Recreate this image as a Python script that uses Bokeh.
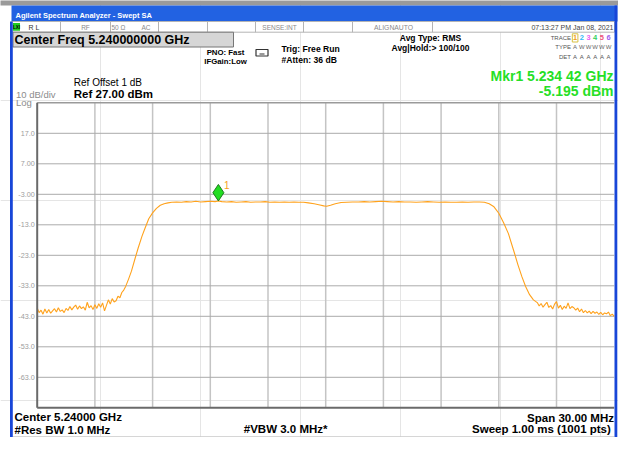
from bokeh.plotting import figure
from bokeh.models import Range1d
from bokeh.core.properties import value
from bokeh.embed import file_html
from bokeh.resources import INLINE

# ---------------- data ----------------
f_start_mhz = 5225.0
f_stop_mhz = 5255.0
ref_level_dbm = 27.0
db_per_div = 10.0
n_div = 10

freq_mhz = [
    5225.0, 5225.1, 5225.2, 5225.3, 5225.4, 5225.5, 5225.6, 5225.7, 5225.8, 5225.9,
    5226.0, 5226.1, 5226.2, 5226.3, 5226.4, 5226.5, 5226.6, 5226.7, 5226.8, 5226.9,
    5227.0, 5227.1, 5227.2, 5227.3, 5227.4, 5227.5, 5227.6, 5227.7, 5227.8, 5227.9,
    5228.0, 5228.1, 5228.2, 5228.3, 5228.4, 5228.5, 5228.6, 5228.7, 5228.8, 5228.9,
    5229.0,
    5229.1, 5229.2, 5229.3, 5229.4, 5229.5, 5229.6, 5229.75, 5229.9, 5230.1, 5230.25,
    5230.45, 5230.6, 5230.8, 5231.0, 5231.2, 5231.4, 5231.6, 5231.8, 5232.0,
    5232.25, 5232.5, 5232.75, 5233.0, 5233.25, 5233.5, 5233.75, 5234.0, 5234.25, 5234.42,
    5234.6, 5234.85, 5235.1, 5235.35, 5235.6, 5235.85, 5236.1, 5236.35, 5236.6, 5236.85,
    5237.1, 5237.35, 5237.6, 5237.85, 5238.1, 5238.35, 5238.6, 5238.85, 5239.1, 5239.4,
    5239.7, 5239.9, 5240.05, 5240.25, 5240.5, 5240.8, 5241.1, 5241.4, 5241.7, 5242.0,
    5242.3, 5242.6, 5242.9, 5243.2, 5243.5, 5243.8, 5244.1, 5244.4, 5244.7, 5245.0,
    5245.3, 5245.6, 5245.9, 5246.2, 5246.5, 5246.8, 5247.1, 5247.4, 5247.7, 5248.0,
    5248.25,
    5248.5, 5248.75, 5249.0, 5249.25, 5249.5, 5249.8, 5250.0, 5250.2, 5250.4, 5250.6,
    5250.8, 5251.0,
    5251.1, 5251.2, 5251.3, 5251.4, 5251.5, 5251.6, 5251.7, 5251.8, 5251.9, 5252.0,
    5252.1, 5252.2, 5252.3, 5252.4, 5252.5, 5252.6, 5252.7, 5252.8, 5252.9, 5253.0,
    5253.1, 5253.2, 5253.3, 5253.4, 5253.5, 5253.6, 5253.7, 5253.8, 5253.9, 5254.0,
    5254.1, 5254.2, 5254.3, 5254.4, 5254.5, 5254.6, 5254.7, 5254.8, 5254.9, 5255.0,
]

level_dbm = [
    -40.3, -41.8, -41.0, -42.3, -40.6, -41.9, -40.8, -42.0, -41.2, -40.5,
    -41.6, -40.2, -41.4, -40.9, -41.8, -40.4, -41.1, -39.8, -40.9, -40.0,
    -39.3, -40.7, -39.6, -40.5, -39.9, -41.0, -38.4, -40.2, -39.5, -40.8,
    -39.2, -40.4, -38.9, -40.0, -38.6, -41.2, -39.4, -37.6, -39.0, -37.2,
    -38.3,
    -37.9, -36.4, -36.9, -35.2, -34.4, -33.2, -30.8, -28.2, -23.8, -20.6,
    -16.7, -14.2, -11.0, -9.1, -7.6, -6.6, -6.1, -5.8, -5.6,
    -5.5, -5.6, -5.4, -5.5, -5.3, -5.5, -5.4, -5.3, -5.4, -5.195,
    -5.4, -5.5, -5.4, -5.6, -5.5, -5.4, -5.6, -5.5, -5.5, -5.4,
    -5.6, -5.5, -5.6, -5.5, -5.6, -5.5, -5.6, -5.6, -5.8, -6.1,
    -6.5, -6.8, -6.9, -6.6, -6.1, -5.7, -5.6, -5.5, -5.5, -5.4,
    -5.5, -5.4, -5.3, -5.4, -5.5, -5.4, -5.5, -5.5, -5.6, -5.5,
    -5.4, -5.5, -5.6, -5.5, -5.6, -5.6, -5.5, -5.6, -5.5, -5.5,
    -5.6,
    -6.1, -7.1, -9.2, -12.3, -15.9, -22.0, -26.2, -30.0, -33.3, -35.9,
    -37.6, -38.5,
    -39.6, -38.8, -40.0, -39.2, -38.4, -40.1, -39.5, -40.6, -39.0, -38.2,
    -40.3, -39.4, -40.8, -39.7, -40.4, -38.6, -40.5, -39.8, -40.2, -41.0,
    -40.3, -41.5, -40.6, -41.8, -41.1, -41.9, -41.3, -42.1, -41.4, -42.0,
    -41.6, -42.4, -41.7, -42.5, -41.9, -42.2, -41.6, -42.8, -42.3, -43.0,
]

y_ticks = [17.0, 7.0, -3.0, -13.0, -23.0, -33.0, -43.0, -53.0, -63.0]
y_tick_labels = ["17.0", "7.00", "-3.00", "-13.0", "-23.0", "-33.0", "-43.0", "-53.0", "-63.0"]
x_grid_mhz = [5228.0, 5231.0, 5234.0, 5237.0, 5240.0, 5243.0, 5246.0, 5249.0, 5252.0]

mkr_freq_mhz = 5234.42
mkr_level_dbm = -5.195

trace_numbers = ["1", "2", "3", "4", "5", "6"]
trace_colors = ["#f0a020", "#33bbf5", "#f060f0", "#33d060", "#f0507a", "#a060f0"]
trace_types = ["A", "W", "W", "W", "W", "W"]
trace_dets = ["A", "A", "A", "A", "A", "A"]

# ---------------- layout ----------------
FONT = "Liberation Sans"
W, H = 618, 437
OX, OY = 0, 0          # screenshot px -> canvas px
IL, IR, IT, IB = 36.7, 613.7, 102.3, 407.3   # graticule edges, screenshot px


def cx(ix):
    return ix - OX


def cy(iy):
    return iy - OY


fpp = (f_stop_mhz - f_start_mhz) / (IR - IL)
bottom_db = ref_level_dbm - n_div * db_per_div
dpp = (n_div * db_per_div) / (IB - IT)

p = figure(width=W, height=H, x_range=Range1d(0, W), y_range=Range1d(H, 0),
           output_backend="svg", toolbar_location=None,
           x_axis_location=None, y_axis_location=None, min_border=0)
p.outline_line_color = None
p.background_fill_color = "white"
p.border_fill_color = "white"
p.extra_x_ranges = {"f": Range1d(f_start_mhz - cx(IL) * fpp, f_stop_mhz + (W - cx(IR)) * fpp)}
p.extra_y_ranges = {"db": Range1d(bottom_db - (H - cy(IB)) * dpp, ref_level_dbm + cy(IT) * dpp)}
D = dict(x_range_name="f", y_range_name="db")


def box(il, it, ir, ib, fill=None, line=None, lw=1.0):
    p.quad(left=cx(il), right=cx(ir), top=cy(it), bottom=cy(ib),
           fill_color=fill, line_color=line, line_width=lw)


def vline(ix, it, ib, color, lw=1.0):
    p.segment(x0=cx(ix), y0=cy(it), x1=cx(ix), y1=cy(ib), line_color=color, line_width=lw)


def hline(il, ir, iy, color, lw=1.0):
    p.segment(x0=cx(il), y0=cy(iy), x1=cx(ir), y1=cy(iy), line_color=color, line_width=lw)


def label(ix, iy, s, size, color="#000000", bold=False, align="left", base="middle"):
    p.text(x=[cx(ix)], y=[cy(iy)], text=[s], text_font=value(FONT),
           text_font_size=f"{size}px", text_font_style="bold" if bold else "normal",
           text_color=color, text_align=align, text_baseline=base)


# top strip of the desktop behind the window
box(-1, -1, 640, 5, fill="#9a9a9a")

# title bar
box(11, 5, 617, 21, fill="#2262e2")
label(15, 14.8, "Agilent Spectrum Analyzer - Swept SA", 7.5, "#ffffff", bold=True)

# status row
box(11, 21, 614, 31.7, fill="#ffffff", line="#b4b4b4")
for xb in [60, 110, 158, 207, 255, 303, 352, 432]:
    vline(xb, 21, 31.7, "#b4b4b4")
box(12.5, 22.5, 19.5, 30.2, fill="#22cc22")
label(16, 26.5, "LXI", 4.5, "#000000", bold=True, align="center")
label(28, 26.6, "R L", 7, "#333333")
label(85, 26.6, "RF", 6.5, "#8a8a8a", align="center")
label(111, 26.6, "50 Ω", 6.5, "#8a8a8a")
label(141, 26.6, "AC", 6.5, "#8a8a8a")
label(279, 26.6, "SENSE:INT", 6.5, "#8a8a8a", align="center")
label(393, 26.6, "ALIGNAUTO", 6.8, "#8a8a8a", align="center")
label(613, 26.6, "07:13:27 PM Jan 08, 2021", 7, "#444444", align="right")

# center frequency box
box(12.5, 31.7, 233, 46.5, fill="#d6d6d6", line="#777777")
label(14, 39.6, "Center Freq 5.240000000 GHz", 12.5, "#000000", bold=True)

# acquisition settings
label(225, 51.8, "PNO: Fast", 7.8, "#000000", bold=True, align="center")
label(225, 60.8, "IFGain:Low", 7.8, "#000000", bold=True, align="center")
box(255.5, 49, 267.5, 55.5, line="#333333", lw=1.2)
p.segment(x0=cx(259), y0=cy(53.5), x1=cx(264), y1=cy(53.5), line_color="#333333", line_width=1)
label(281, 48.4, "Trig: Free Run", 8.6, "#000000", bold=True)
label(281, 59.0, "#Atten: 36 dB", 8.6, "#000000", bold=True)
label(430, 37.8, "Avg Type: RMS", 8.5, "#000000", bold=True, align="center")
label(430, 47.8, "Avg|Hold:> 100/100", 8.5, "#000000", bold=True, align="center")

# trace table
label(570.5, 37.4, "TRACE", 6, "#555555", align="right")
label(570.5, 46.8, "TYPE", 6, "#555555", align="right")
label(570.5, 56.8, "DET", 6, "#555555", align="right")
box(571.8, 33.3, 577.4, 41.5, line="#d8c040", lw=1)
for i, (num, col, typ, det) in enumerate(zip(trace_numbers, trace_colors, trace_types, trace_dets)):
    xx = 574.6 + i * 6.7
    label(xx, 37.4, num, 7.5, col, bold=True, align="center")
    label(xx, 46.8, typ, 6, "#666666", align="center")
    label(xx, 56.8, det, 6, "#555555", align="center")

# marker readout
label(613, 75.8, "Mkr1 5.234 42 GHz", 14, "#26df26", bold=True, align="right")
label(613, 90.0, "-5.195 dBm", 14, "#26df26", bold=True, align="right")

# reference info
label(73.3, 82.4, "Ref Offset 1 dB", 10, "#000000")
label(73.3, 93.0, "Ref 27.00 dBm", 11.5, "#000000", bold=True)
label(15.5, 94.2, "10 dB/div", 9.5, "#8c8c8c")
label(15.5, 101.8, "Log", 9.5, "#8c8c8c")

# graticule
p.segment(x0=x_grid_mhz, y0=bottom_db, x1=x_grid_mhz, y1=ref_level_dbm,
          line_color="#c4c4c4", line_width=1.5, **D)
p.segment(x0=f_start_mhz, y0=y_ticks, x1=f_stop_mhz, y1=y_ticks,
          line_color="#ababab", line_width=1, **D)
p.text(x=f_start_mhz, y=y_ticks, text=y_tick_labels, x_offset=-2.5,
       text_align="right", text_baseline="middle", text_font=value(FONT),
       text_font_size="7.2px", text_color="#9c9c9c", **D)

# trace
p.line(freq_mhz, level_dbm, line_color="#ffa21c", line_width=1.1, **D)

# graticule border
p.segment(x0=f_start_mhz, y0=ref_level_dbm, x1=f_stop_mhz, y1=ref_level_dbm,
          line_color="#9a9a9a", line_width=1.6, **D)
p.segment(x0=f_start_mhz, y0=bottom_db, x1=f_start_mhz, y1=ref_level_dbm,
          line_color="#6a6a6a", line_width=2, **D)
p.segment(x0=f_start_mhz, y0=bottom_db, x1=f_stop_mhz, y1=bottom_db,
          line_color="#6a6a6a", line_width=2, **D)

# marker 1 (diamond sits on top of the trace point)
p.scatter(x=[mkr_freq_mhz], y=[mkr_level_dbm + 8.3 * dpp], marker="diamond", size=16.5,
          fill_color="#22dd22", line_color="#1b7a1b", line_width=1, **D)
p.text(x=[mkr_freq_mhz], y=[mkr_level_dbm], text=["1"], x_offset=5.5, y_offset=-15.5,
       text_align="left", text_baseline="middle", text_font=value(FONT),
       text_font_size="10px", text_color="#f5a020", **D)

# bottom annotations
label(14, 416.8, "Center 5.24000 GHz", 11.5, "#000000", bold=True)
label(14, 429.4, "#Res BW 1.0 MHz", 11.5, "#000000", bold=True)
label(243.3, 428.6, "#VBW 3.0 MHz*", 11.5, "#000000", bold=True)
label(613.5, 417.4, "Span 30.00 MHz", 11.5, "#000000", bold=True, align="right")
label(613.5, 428.6, "Sweep  1.00 ms (1001 pts)", 11.5, "#000000", bold=True, align="right")

# message bar separator
hline(12, 614, 436.3, "#c8c8c8", 1.2)

# blue window borders
box(9.5, 21, 12.3, 460, fill="#1846d8")
box(614, 5, 616.8, 460, fill="#1846d8")

open("out.html", "w").write(file_html(p, INLINE))
